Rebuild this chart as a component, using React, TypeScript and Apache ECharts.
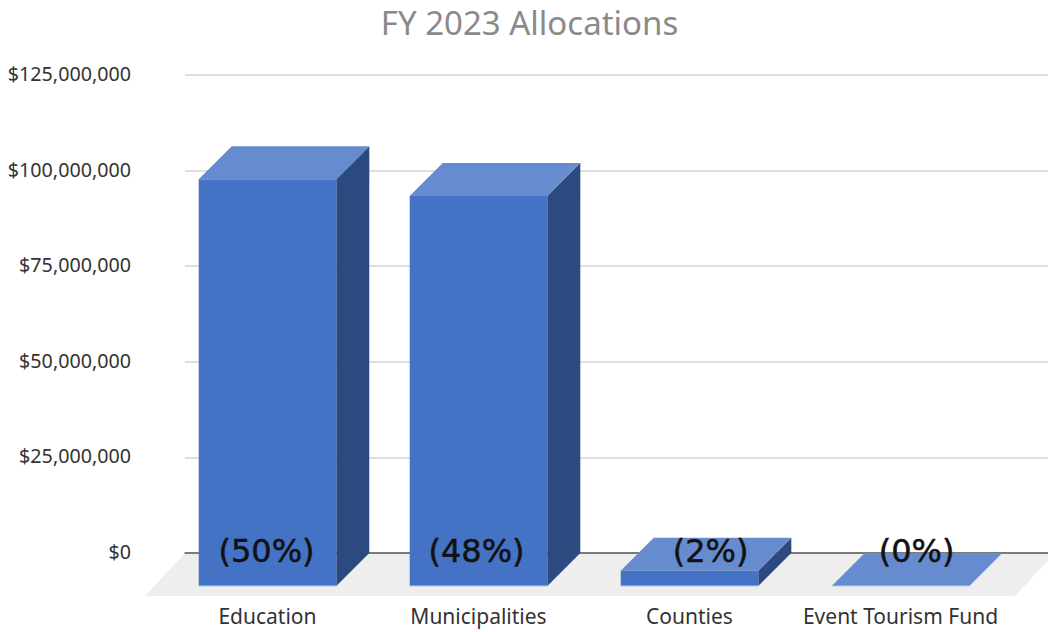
import React, { useEffect, useRef } from "react";
import * as echarts from "echarts";

const categories = ["Education", "Municipalities", "Counties", "Event Tourism Fund"];
const allocations = [106400000, 102000000, 4000000, 0];
const shares = ["(50%)", "(48%)", "(2%)", "(0%)"];
const yTicks = [0, 25000000, 50000000, 75000000, 100000000, 125000000];

const DEPTH = 33;
const FRONT = "#4472c4";
const SIDE = "#2c4a80";
const TOP = "#678bcf";
const EDGE = "#a9cdf2";

function money(v: number) {
  return "$" + v.toLocaleString("en-US");
}

function renderBar(params: any, api: any) {
  const idx = api.value(0);
  const val = api.value(1);
  const [cx, yTop] = api.coord([idx, val]);
  const [, yBase] = api.coord([idx, 0]);
  const bw = api.size([1, 0])[0] * 0.652;
  const l = cx - bw / 2;
  const r = cx + bw / 2;
  const fTop = yTop + DEPTH;
  const fBot = yBase + DEPTH;
  const children: any[] = [];
  if (val > 0) {
    children.push({
      type: "polygon",
      shape: { points: [[r, fTop], [r + DEPTH, yTop], [r + DEPTH, yBase], [r, fBot]] },
      style: { fill: SIDE },
    });
    children.push({
      type: "rect",
      shape: { x: l, y: fTop, width: bw, height: fBot - fTop },
      style: { fill: FRONT },
    });
  }
  children.push({
    type: "polygon",
    shape: { points: [[l, fTop], [l + DEPTH, yTop], [r + DEPTH, yTop], [r, fTop]] },
    style: { fill: TOP },
  });
  children.push({
    type: "line",
    shape: { x1: l, y1: fBot, x2: r, y2: fBot },
    style: { stroke: EDGE, lineWidth: 1 },
  });
  return { type: "group", children };
}

function renderFloor(params: any, api: any) {
  const c = params.coordSys;
  const yb = c.y + c.height;
  return {
    type: "polygon",
    shape: {
      points: [
        [c.x, yb],
        [c.x + c.width + 7, yb],
        [c.x + c.width - 33, yb + 43],
        [c.x - 40, yb + 43],
      ],
    },
    style: { fill: "#eeeeee" },
  };
}

export default function App() {
  const ref = useRef<HTMLDivElement>(null);
  useEffect(() => {
    const chart = echarts.init(ref.current!, null, { renderer: "svg" });
    const shareX = [266.5, 476.5, 710.5, 916.5];
    chart.setOption({
      animation: false,
      backgroundColor: "#ffffff",
      title: {
        text: "FY 2023 Allocations",
        left: 529.5,
        top: 6,
        padding: 0,
        textAlign: "center",
        textStyle: { fontFamily: "Noto Sans", fontSize: 33, fontWeight: 400, color: "#8a8a8a" },
      },
      grid: [
        { left: 185, width: 863, top: 75, height: 478 },
        { left: 162, width: 844, top: 75, height: 478 },
      ],
      xAxis: [
        {
          gridIndex: 0,
          type: "category",
          data: categories,
          axisLine: { show: true, lineStyle: { color: "#5a5a5a", width: 1.5 } },
          axisTick: { show: false },
          axisLabel: { show: false },
        },
        {
          gridIndex: 1,
          type: "category",
          data: categories,
          axisLine: { show: false },
          axisTick: { show: false },
          axisLabel: {
            margin: 52,
            fontFamily: "Noto Sans",
            fontSize: 21,
            color: "#333333",
            interval: 0,
          },
        },
      ],
      yAxis: [
        {
          gridIndex: 0,
          type: "value",
          min: 0,
          max: 125000000,
          interval: 25000000,
          axisLine: { show: false },
          axisTick: { show: false },
          axisLabel: {
            margin: 54,
            fontFamily: "Noto Sans",
            fontSize: 19.7,
            color: "#333333",
            verticalAlign: "bottom",
            lineHeight: 3,
            formatter: (v: number) => money(yTicks[yTicks.indexOf(v)]),
          },
          splitLine: { lineStyle: { color: "#d4d4d4", width: 1.5 } },
        },
        {
          gridIndex: 1,
          type: "value",
          min: 0,
          max: 125000000,
          interval: 25000000,
          show: false,
          splitLine: { show: false },
        },
      ],
      series: [
        {
          type: "custom",
          xAxisIndex: 0,
          yAxisIndex: 0,
          z: -1,
          silent: true,
          renderItem: renderFloor,
          data: [[0, 0]],
        },
        {
          type: "custom",
          xAxisIndex: 1,
          yAxisIndex: 1,
          z: 3,
          renderItem: renderBar,
          encode: { x: 0, y: 1 },
          data: allocations.map((v, i) => [i, v]),
        },
      ],
      graphic: shares.map((s, i) => ({
        type: "text",
        z: 10,
        x: shareX[i],
        y: 551,
        style: {
          text: s,
          fontFamily: "DejaVu Sans",
          fontSize: 32,
          fill: "#111111",
          stroke: "#111111",
          lineWidth: 0.5,
          align: "center",
          verticalAlign: "middle",
        },
      })),
    });
    return () => chart.dispose();
  }, []);
  return (
    <div
      ref={ref}
      style={{ position: "absolute", left: 0, top: 0, width: 1048, height: 632 }}
    />
  );
}
